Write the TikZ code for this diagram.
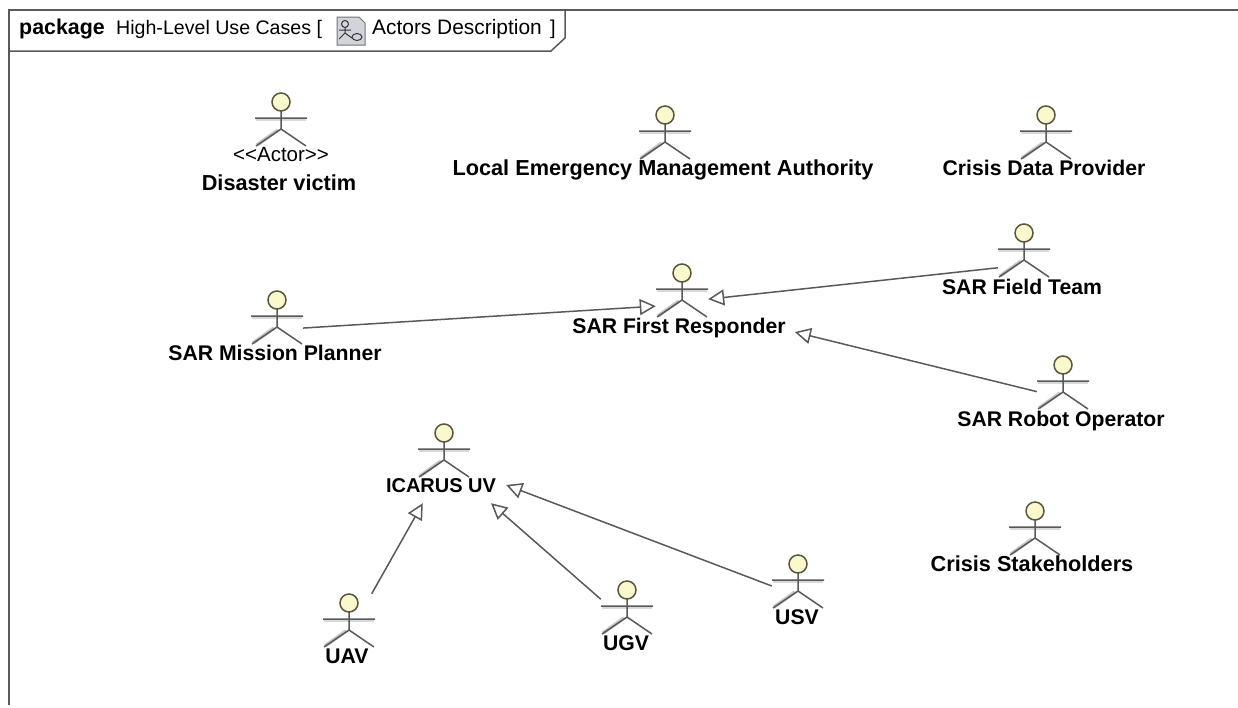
\documentclass[tikz,border=0pt]{standalone}
\usepackage{fontspec}
\setmainfont{Liberation Sans}
\usetikzlibrary{arrows.meta}
\definecolor{headfill}{RGB}{250,248,205}
\definecolor{headline}{RGB}{90,85,60}
\definecolor{iconfill}{RGB}{210,212,220}
\tikzset{
	actorbox/.style={minimum width=52pt, minimum height=62pt, inner sep=0pt},
	actorname/.style={font=\fontsize{21.2}{23}\selectfont\bfseries, inner sep=2pt, text height=15.2pt, text depth=0pt},
	widename/.style={actorname, font=\fontsize{21.7}{23}\selectfont\bfseries},
	framelabel/.style={font=\fontsize{20}{22}\selectfont, inner sep=0pt, anchor=base west},
	genarrow/.style={draw=black!65, line width=1.5pt, -{Triangle[open, fill=white, length=16pt, width=16pt]}}
}
\begin{document}
\begin{tikzpicture}[x=1pt, y=-1pt]
	\useasboundingbox (0, 0) rectangle (1238, 707);
	% frame
	\draw [black!65, line width=1.8pt] (9, 705) -- (9, 10) -- (1238, 10);
	\draw [black!65, line width=1.5pt] (9, 51) -- (551, 51) -- (565, 38) -- (565, 10);
	\node [framelabel, font=\fontsize{21.4}{23}\selectfont\bfseries] (kind) at (19, 34) {package};
	\node [framelabel, font=\fontsize{19.6}{22}\selectfont] (pkgname) at (116, 34) {High-Level Use Cases [};
	\node [framelabel, font=\fontsize{20.9}{22}\selectfont] (diagname) at (372, 34) {Actors Description};
	\node [framelabel] (closing) at (550, 34) {]};
	% diagram icon
	\fill [iconfill, draw=black!55, line width=1pt] (337, 17) -- (359, 17) -- (365, 23) -- (365, 45) -- (337, 45) -- cycle;
	\draw [black!80, line width=1pt] (345, 24) circle (3.5);
	\draw [black!80, line width=1pt] (339, 30) -- (351, 30) (345, 28) -- (345, 33) -- (339, 39) (345, 33) -- (352, 38);
	\draw [black!80, line width=1pt] (357, 37) ellipse (5 and 3.5);
	% actors
	\foreach \actorid/\x/\y in {victim/281/102, authority/665/115, provider/1046/115, planner/277/300, responder/682/273, fieldteam/1024/233, robotop/1063/365, icarus/444/433, stakeholders/1035/511, uav/349/603, ugv/627/590, usv/798/564} {
		\node [actorbox] (\actorid) at (\x, \y+22) {};
		\begin{scope}[shift={(\x, \y)}]
			\draw [black!22, line width=3.5pt] (-3, 28) -- (-24, 43);
			\draw [black!15, line width=2.5pt] (-25, 18) -- (25, 18);
			\draw [black!65, line width=1.5pt] (-26, 16) -- (26, 16) (0, 9) -- (0, 27) -- (-25, 44) (0, 27) -- (25, 44);
			\draw [headline, fill=headfill, line width=1.5pt] (0, 0) circle (9);
		\end{scope}
	}
	% names
	\node [font=\fontsize{20.5}{22}\selectfont, inner sep=0pt] (stereotype) at (281, 155) {{<}{<}Actor{>}{>}};
	\node [widename] (victimname) at (279, 183) {Disaster victim};
	\node [widename] (authorityname) at (663, 168) {Local Emergency Management Authority};
	\node [actorname] (providername) at (1044, 168) {Crisis Data Provider};
	\node [actorname] (plannername) at (275, 353) {SAR Mission Planner};
	\node [actorname, inner xsep=9pt] (respondername) at (679, 326) {SAR First Responder};
	\node [actorname] (fieldteamname) at (1022, 287) {SAR Field Team};
	\node [actorname] (robotopname) at (1061, 419) {SAR Robot Operator};
	\node [actorname, font=\fontsize{20}{22}\selectfont\bfseries, inner xsep=10pt, inner ysep=10.4pt] (icarusname) at (441, 485) {ICARUS UV};
	\node [widename] (stakeholdersname) at (1032, 564) {Crisis Stakeholders};
	\node [actorname] (uavname) at (347, 656) {UAV};
	\node [actorname] (ugvname) at (626, 643) {UGV};
	\node [actorname] (usvname) at (797, 617) {USV};
	% generalizations
	\draw [genarrow] (planner.-13) -- (responder.203);
	\draw [genarrow] (fieldteam.206) -- (responder.-9);
	\draw [genarrow] (robotop.190) -- (respondername.-3.5);
	\draw [genarrow] (uav.54) -- (icarusname.225);
	\draw [genarrow] (ugv.154) -- (icarusname.-20);
	\draw [genarrow] (usv.west) -- (icarusname.east);
\end{tikzpicture}
\end{document}
